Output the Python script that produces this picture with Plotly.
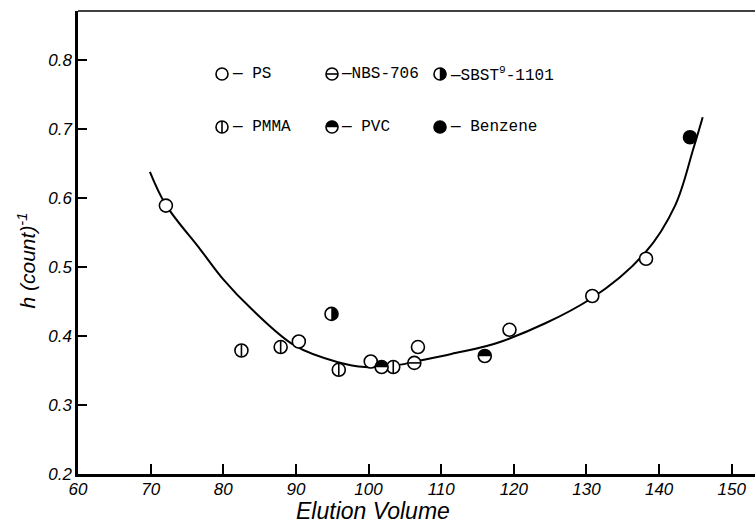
import plotly.graph_objects as go

# ---- data -------------------------------------------------------------
ps_x = [72.1, 90.4, 100.3, 106.8, 119.4, 130.8, 138.2]
ps_y = [0.589, 0.392, 0.363, 0.384, 0.409, 0.458, 0.512]

pmma_x = [82.5, 87.9, 95.9, 103.4]
pmma_y = [0.379, 0.384, 0.351, 0.355]

nbs_x = [106.3]
nbs_y = [0.361]

sbst_x = [94.9]
sbst_y = [0.432]

pvc_x = [101.8, 116.0]
pvc_y = [0.355, 0.371]

benzene_x = [144.25]
benzene_y = [0.688]

# fitted curve traced through the points
curve_x = [69.9, 72.1, 76.8, 80.0, 83.9, 89.85, 95.8, 99.5, 103.6, 106.4,
           111.4, 118.3, 130.6, 138.1, 142.2, 144.7, 146.0]
curve_y = [0.638, 0.590, 0.526, 0.482, 0.439, 0.386, 0.362, 0.355, 0.357,
           0.363, 0.374, 0.392, 0.454, 0.521, 0.589, 0.671, 0.717]

x_ticks = [60, 70, 80, 90, 100, 110, 120, 130, 140, 150]
y_ticks = [0.2, 0.3, 0.4, 0.5, 0.6, 0.7, 0.8]

legend_rows = [
    [("open", "— PS"), ("hbar", "—NBS-706"), ("right", "—SBST<sup>9</sup>-1101")],
    [("vbar", "— PMMA"), ("top", "— PVC"), ("full", "— Benzene")],
]

# ---- layout geometry ---------------------------------------------------
W, H = 755, 525
M_L, M_R, M_T, M_B = 78, 0, 11, 51
PW, PH = W - M_L - M_R, H - M_T - M_B
R = 6          # marker radius in px
LW = 1.6       # marker outline width
K = 0.5523 * R # bezier handle for quarter circles

def px_x(px):
    return (px - M_L) / PW

def px_y(py):
    return (H - M_B - py) / PH

HALF_PATH = {
    # right half disc
    "right": (f"M 0,{R} C {K},{R} {R},{K} {R},0 "
              f"C {R},{-K} {K},{-R} 0,{-R} Z"),
    # upper half disc
    "top": (f"M {-R},0 C {-R},{K} {-K},{R} 0,{R} "
            f"C {K},{R} {R},{K} {R},0 Z"),
}

def marker_shapes(kind, xa, ya, xref, yref):
    base = dict(xref=xref, yref=yref, xsizemode="pixel", ysizemode="pixel",
                xanchor=xa, yanchor=ya)
    out = [dict(type="circle", x0=-R, x1=R, y0=-R, y1=R,
                line=dict(color="black", width=LW),
                fillcolor="black" if kind == "full" else "white", **base)]
    if kind == "vbar":
        out.append(dict(type="line", x0=0, x1=0, y0=-R, y1=R,
                        line=dict(color="black", width=LW), **base))
    elif kind == "hbar":
        out.append(dict(type="line", x0=-R, x1=R, y0=0, y1=0,
                        line=dict(color="black", width=LW), **base))
    elif kind in HALF_PATH:
        out.append(dict(type="path", path=HALF_PATH[kind], fillcolor="black",
                        line=dict(color="black", width=0.5), **base))
    return out

fig = go.Figure()

fig.add_trace(go.Scatter(x=curve_x, y=curve_y, mode="lines",
                         line=dict(color="black", width=2, shape="spline",
                                   smoothing=1.0),
                         showlegend=False, hoverinfo="skip"))

series = [
    ("open", ps_x, ps_y),
    ("vbar", pmma_x, pmma_y),
    ("hbar", nbs_x, nbs_y),
    ("right", sbst_x, sbst_y),
    ("top", pvc_x, pvc_y),
    ("full", benzene_x, benzene_y),
]

shapes = []
for kind, xs, ys in series:
    fig.add_trace(go.Scatter(
        x=xs, y=ys, mode="markers",
        marker=dict(symbol="circle", size=2 * R + 1,
                    color="black" if kind == "full" else "white",
                    line=dict(color="black", width=LW)),
        showlegend=False))
    for x, y in zip(xs, ys):
        shapes += marker_shapes(kind, x, y, "x", "y")[1:]

# key drawn inside the plot
row_py = [74, 127]
col_marker_px = [222, 332, 440]
col_text_px = [230, 339, 448]
annotations = []
for r, row in enumerate(legend_rows):
    for c, (kind, label) in enumerate(row):
        shapes += marker_shapes(kind, px_x(col_marker_px[c]), px_y(row_py[r]),
                                "paper", "paper")
        annotations.append(dict(
            x=px_x(col_text_px[c]), y=px_y(row_py[r]), xref="paper", yref="paper",
            text=label, showarrow=False, xanchor="left", yanchor="middle",
            font=dict(family="Liberation Mono", size=16, color="black")))

# thin frame line along the top
shapes.append(dict(type="line", xref="paper", yref="paper", x0=0, x1=1,
                   y0=1, y1=1, line=dict(color="black", width=1.5)))

annotations.append(dict(
    x=100.6, y=0, xref="x", yref="paper", yshift=-37, text="Elution Volume",
    showarrow=False, xanchor="center", yanchor="middle",
    font=dict(family="Liberation Sans", size=23, style="italic", color="black")))
annotations.append(dict(
    x=0, y=0.5, xref="paper", yref="paper", xshift=-52, yshift=-18,
    text="h (count)<sup>-1</sup>", textangle=-90, showarrow=False,
    xanchor="center", yanchor="middle",
    font=dict(family="Liberation Sans", size=21, style="italic", color="black")))

tickfont = dict(family="Liberation Sans", size=17, style="italic", color="black")

fig.update_layout(
    width=W, height=H,
    margin=dict(l=M_L, r=M_R, t=M_T, b=M_B),
    paper_bgcolor="white", plot_bgcolor="white",
    showlegend=False,
    shapes=shapes, annotations=annotations,
    xaxis=dict(range=[60, 153.2], tickvals=x_ticks,
               ticktext=[str(v) for v in x_ticks],
               ticks="inside", ticklen=10, tickwidth=1.6, tickcolor="black",
               ticklabelstandoff=-2,
               showline=True, linewidth=2.5, linecolor="black",
               showgrid=False, zeroline=False, tickfont=tickfont),
    yaxis=dict(range=[0.2, 0.871], tickvals=y_ticks,
               ticktext=[f"{v:.1f}" for v in y_ticks],
               ticks="inside", ticklen=9, tickwidth=1.6, tickcolor="black",
               showline=True, linewidth=2.5, linecolor="black",
               showgrid=False, zeroline=False, tickfont=tickfont),
)

fig.write_html("out.html")
